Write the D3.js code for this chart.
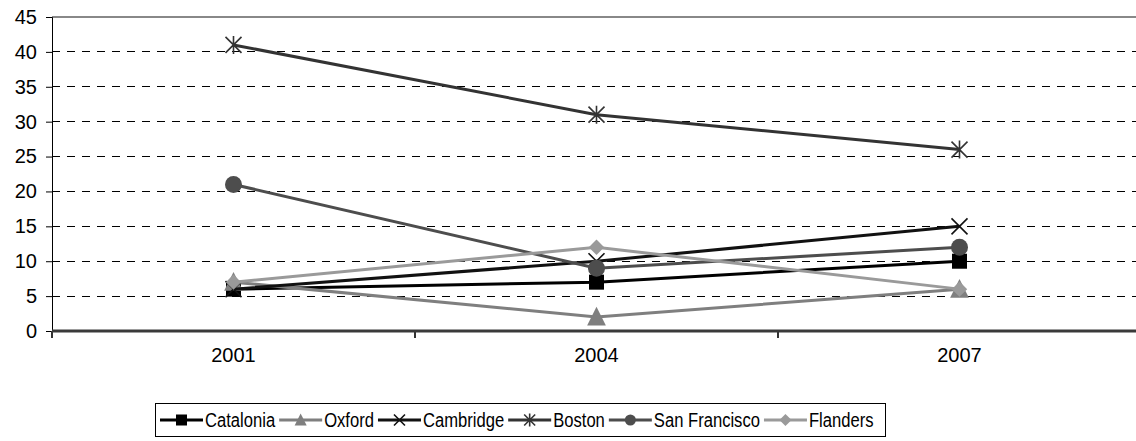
<!DOCTYPE html>
<html>
<head>
<meta charset="utf-8">
<script src="https://cdn.jsdelivr.net/npm/d3@7"></script>
<style>
  body { margin: 0; background: #fff; }
  text { font-family: "Liberation Sans", Arial, sans-serif; fill: #000; }
</style>
</head>
<body>
<script>
var years = ["2001", "2004", "2007"];
var yTicks = [0, 5, 10, 15, 20, 25, 30, 35, 40, 45];
var seriesNames = ["Catalonia", "Oxford", "Cambridge", "Boston", "San Francisco", "Flanders"];
var catalonia = [6, 7, 10];
var oxford = [7, 2, 6];
var cambridge = [6, 10, 15];
var boston = [41, 31, 26];
var sanFrancisco = [21, 9, 12];
var flanders = [7, 12, 6];

var seriesValues = [catalonia, oxford, cambridge, boston, sanFrancisco, flanders];
var colors = ["#000000", "#7f7f7f", "#111111", "#333333", "#4d4d4d", "#9a9a9a"];
var shapes = ["square", "triangle", "cross", "star", "circle", "diamond"];

var svg = d3.select("body").append("svg")
    .attr("width", 1136)
    .attr("height", 441);

var margin = {top: 17, left: 52},
    width = 1089,
    height = 314;

var g = svg.append("g").attr("transform", "translate(" + margin.left + "," + margin.top + ")");

var x = d3.scaleBand().domain(years).range([0, width]);
var y = d3.scaleLinear().domain([0, 45]).range([height, 0]);

// grid lines
g.selectAll(".grid")
  .data(yTicks.filter(function(d) { return d > 0 && d < 45; }))
  .enter().append("line")
    .attr("x1", 0).attr("x2", width)
    .attr("y1", function(d) { return y(d); })
    .attr("y2", function(d) { return y(d); })
    .attr("stroke", "#000")
    .attr("stroke-width", 1)
    .attr("stroke-dasharray", "8,7")
    .attr("shape-rendering", "crispEdges");

// top border of plot area
g.append("line")
  .attr("x1", 0).attr("x2", width)
  .attr("y1", 0).attr("y2", 0)
  .attr("stroke", "#888").attr("stroke-width", 2);

// y axis
var yAxis = g.append("g")
  .call(d3.axisLeft(y).tickValues(yTicks).tickSize(6).tickPadding(9));
yAxis.select(".domain").attr("stroke", "#000");
yAxis.selectAll(".tick line").attr("stroke", "#000");
yAxis.selectAll("text").style("font-size", "20px").attr("fill", "#000");

// x axis
var xAxis = g.append("g")
  .attr("transform", "translate(0," + height + ")");
xAxis.selectAll(".xt")
  .data(d3.range(years.length + 1))
  .enter().append("line")
    .attr("x1", function(i) { return i * x.step(); })
    .attr("x2", function(i) { return i * x.step(); })
    .attr("y1", 0).attr("y2", 7)
    .attr("stroke", "#333").attr("stroke-width", 2);
xAxis.append("line")
  .attr("x1", 0).attr("x2", width)
  .attr("stroke", "#3a3a3a").attr("stroke-width", 3);
xAxis.selectAll(".xl")
  .data(years)
  .enter().append("text")
    .attr("x", function(d) { return x(d) + x.bandwidth() / 2; })
    .attr("y", 31)
    .attr("text-anchor", "middle")
    .style("font-size", "20px")
    .text(function(d) { return d; });

function marker(sel, shape, color, s) {
  if (shape === "square") {
    sel.append("rect").attr("x", -s / 2).attr("y", -s / 2).attr("width", s).attr("height", s)
      .attr("fill", color);
  } else if (shape === "triangle") {
    sel.append("path").attr("d", "M0," + (-s * 0.6) + "L" + (s * 0.55) + "," + (s * 0.5) + "L" + (-s * 0.55) + "," + (s * 0.5) + "Z")
      .attr("fill", color);
  } else if (shape === "cross") {
    var h = s / 2;
    sel.append("path").attr("d", "M" + -h + "," + -h + "L" + h + "," + h + "M" + h + "," + -h + "L" + -h + "," + h)
      .attr("stroke", color).attr("stroke-width", 1.6).attr("fill", "none");
  } else if (shape === "star") {
    var h2 = s / 2;
    sel.append("path").attr("d", "M" + -h2 + "," + -h2 + "L" + h2 + "," + h2 + "M" + h2 + "," + -h2 + "L" + -h2 + "," + h2 + "M0," + (-h2 - 1) + "L0," + (h2 + 1))
      .attr("stroke", color).attr("stroke-width", 1.6).attr("fill", "none");
  } else if (shape === "circle") {
    sel.append("circle").attr("r", s / 2).attr("fill", color);
  } else if (shape === "diamond") {
    var d = s * 0.55;
    sel.append("path").attr("d", "M0," + -d + "L" + d + ",0L0," + d + "L" + -d + ",0Z")
      .attr("fill", color);
  }
}

var line = d3.line()
    .x(function(d, i) { return x(years[i]) + x.bandwidth() / 2; })
    .y(function(d) { return y(d); });

var sizes = [15, 17, 16, 16, 17, 14];

seriesValues.forEach(function(vals, k) {
  var sg = g.append("g").attr("class", "series");
  sg.append("path")
    .attr("d", line(vals))
    .attr("fill", "none")
    .attr("stroke", colors[k])
    .attr("stroke-width", 3);
  vals.forEach(function(v, i) {
    var m = sg.append("g")
      .attr("transform", "translate(" + (x(years[i]) + x.bandwidth() / 2) + "," + y(v) + ")");
    marker(m, shapes[k], colors[k], sizes[k]);
  });
});

// legend
var legend = svg.append("g");
legend.append("rect")
  .attr("x", 155.5).attr("y", 403.5)
  .attr("width", 730).attr("height", 33)
  .attr("fill", "#fff").attr("stroke", "#000").attr("stroke-width", 1);

var lx = 160;
seriesNames.forEach(function(name, k) {
  var item = legend.append("g");
  item.append("line")
    .attr("x1", lx).attr("x2", lx + 43)
    .attr("y1", 420).attr("y2", 420)
    .attr("stroke", colors[k]).attr("stroke-width", 3);
  var m = item.append("g").attr("transform", "translate(" + (lx + 21.5) + ",420)");
  marker(m, shapes[k], colors[k], 11);
  var t = item.append("text")
    .attr("x", lx + 45)
    .attr("y", 427)
    .style("font-size", "20px")
    .text(name);
  var w = t.node().getComputedTextLength() * 0.83;
  t.attr("textLength", w).attr("lengthAdjust", "spacingAndGlyphs");
  lx += 45 + w + 4;
});
</script>
</body>
</html>
